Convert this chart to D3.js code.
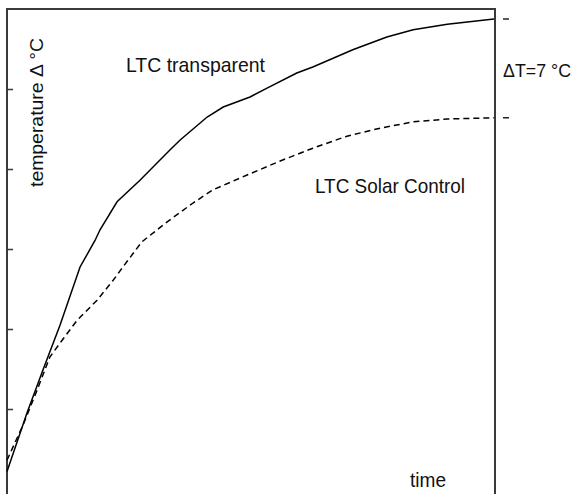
<!DOCTYPE html>
<html>
<head>
<meta charset="utf-8">
<script src="https://cdn.jsdelivr.net/npm/d3@7"></script>
<style>
  html, body { margin: 0; padding: 0; background: #fff; }
  svg { display: block; }
</style>
</head>
<body>
<script>
// ---- data (time in % of run, temperature in arbitrary units) ----
const transparentTime = [0, 4.1, 7.4, 10.9, 15, 18.1, 19.1, 22.6, 27.3, 33.5, 35.5, 41.1, 44.4, 49.9, 53.4, 59.5, 62.8, 71, 78, 83.4, 90.4, 100];
const transparentTemp = [2.2, 9.5, 14.9, 20.5, 27.75, 31.1, 32.4, 35.9, 38.6, 42.4, 43.6, 46.5, 47.75, 49, 50.1, 52, 52.75, 54.9, 56.5, 57.4, 58.1, 58.75];
const solarTime = [0, 3.3, 6.2, 8.8, 10.9, 14.4, 18.5, 21.8, 24.6, 27.7, 32.9, 38.2, 42.3, 49.3, 56.1, 62.8, 69.8, 76.6, 83.4, 90.4, 100];
const solarTemp = [3.6, 8, 12.4, 16.5, 18.25, 21.1, 23.6, 26.1, 28.4, 30.9, 33.4, 35.75, 37.4, 39.25, 41, 42.6, 44.1, 45.1, 45.9, 46.25, 46.4];
const yTicks = [10, 20, 30, 40, 50];
const labels = {
  yAxis: "temperature Δ °C",
  xAxis: "time",
  transparent: "LTC transparent",
  solar: "LTC Solar Control",
  delta: "ΔT=7 °C"
};

const W = 573, H = 494;
const svg = d3.select("body").append("svg").attr("width", W).attr("height", H);

const x = d3.scaleLinear().domain([0, 100]).range([7, 494]);
const y = d3.scaleLinear().domain([0, 60]).range([489, 9]);

const frameColor = "#3a3a3a";
// frame: left, top, right (open at bottom)
svg.append("path")
  .attr("d", `M${x(0)},${H} L${x(0)},${y(60)} L${x(100) + 1},${y(60)} L${x(100) + 1},${H}`)
  .attr("fill", "none").attr("stroke", frameColor).attr("stroke-width", 2);

// left ticks (inward)
const yAxis = d3.axisRight(y).tickValues(yTicks).tickSize(6).tickFormat("");
const gy = svg.append("g").attr("transform", `translate(${x(0)},0)`).call(yAxis);
gy.select(".domain").remove();
gy.selectAll(".tick line").attr("stroke", frameColor).attr("stroke-width", 1.5);

// lines
const line = d3.line().x(d => x(d[0])).y(d => y(d[1]));
const tData = transparentTime.map((t, i) => [t, transparentTemp[i]]);
const sData = solarTime.map((t, i) => [t, solarTemp[i]]);

svg.append("path").datum(tData).attr("d", line)
  .attr("fill", "none").attr("stroke", "#000").attr("stroke-width", 1.5);
svg.append("path").datum(sData).attr("d", line)
  .attr("fill", "none").attr("stroke", "#000").attr("stroke-width", 1.5)
  .attr("stroke-dasharray", "6,4");

// right markers for end values
const endVals = [transparentTemp[transparentTemp.length - 1], solarTemp[solarTemp.length - 1]];
svg.selectAll("line.marker").data(endVals).enter().append("line")
  .attr("class", "marker")
  .attr("x1", x(100) + 9).attr("x2", x(100) + 15)
  .attr("y1", d => y(d)).attr("y2", d => y(d))
  .attr("stroke", "#000").attr("stroke-width", 1.3);

const narrow = "'Liberation Sans Narrow', 'Arial Narrow', 'Liberation Sans', Arial, sans-serif";

function txt(str, px, py, size, len, family) {
  return svg.append("text")
    .attr("x", px).attr("y", py)
    .attr("font-family", family || narrow)
    .attr("font-size", size)
    .attr("fill", "#111")
    .attr("textLength", len)
    .attr("lengthAdjust", "spacingAndGlyphs")
    .text(str);
}

txt(labels.transparent, 126, 72, 21, 139);
txt(labels.solar, 315, 193, 21, 150);
txt(labels.delta, 503, 77, 18, 68);
txt(labels.xAxis, 410, 487, 21, 36);

// y axis label (rotated)
svg.append("text")
  .attr("transform", "translate(43,187) rotate(-90)")
  .attr("font-family", "'Liberation Sans', Arial, sans-serif")
  .attr("font-size", 18)
  .attr("fill", "#111")
  .attr("textLength", 149)
  .attr("lengthAdjust", "spacingAndGlyphs")
  .text(labels.yAxis);
</script>
</body>
</html>
